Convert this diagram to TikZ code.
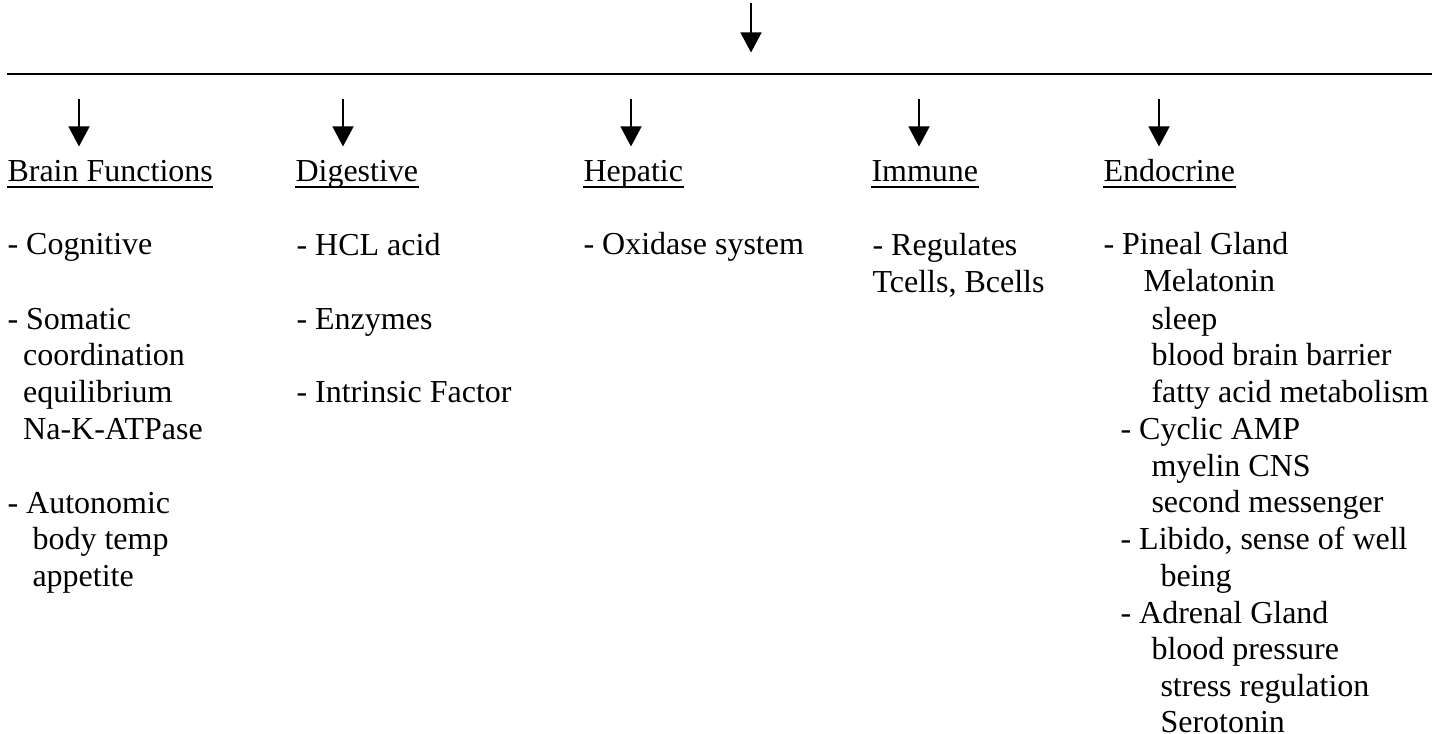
\documentclass[tikz,border=0pt]{standalone}
\usepackage{fontspec}
\setmainfont{Liberation Serif}
\usetikzlibrary{arrows.meta}
\tikzset{
  txt/.style={anchor=base west, inner sep=0pt, font=\fontsize{12}{14}\selectfont},
  down/.style={-{Triangle[length=7.5pt,width=7.8pt]}, line width=0.75pt},
  rulestyle/.style={line width=0.75pt},
}
\begin{document}
\begin{tikzpicture}[x=0.375pt, y=-0.375pt]
    \useasboundingbox (0,0) rectangle (1445,734);
    % top arrow and long rule
    \coordinate (top-a) at (751,3);
    \coordinate (top-b) at (751,52.5);
    \draw[down] (top-a) -- (top-b);
    \coordinate (rule-l) at (7,74);
    \coordinate (rule-r) at (1432,74);
    \draw[rulestyle] (rule-l) -- (rule-r);
    % column arrows and underlined headings
    \foreach \n/\ax/\hx/\htext in {brain/79/7/Brain Functions, dig/343/295/Digestive, hep/631/583/Hepatic, imm/919/871/Immune, endo/1159/1103/Endocrine} {
        \coordinate (\n-a) at (\ax,99);
        \coordinate (\n-b) at (\ax,146.5);
        \draw[down] (\n-a) -- (\n-b);
        \node[txt] (\n) at (\hx,182) {\htext};
        \draw[rulestyle] ([yshift=-1.9pt]\n.base west) -- ([yshift=-1.9pt]\n.base east);
    }
    % brain functions
    \foreach \i/\x/\y/\t in {1/7/255/- Cognitive, 2/7/329/- Somatic, 3/22.7/365.5/coordination, 4/22.7/402/equilibrium, 5/22.7/439/Na-K-ATPase, 6/7/513/- Autonomic, 7/32/549.5/body temp, 8/32/586/appetite}
        \node[txt] (brain\i) at (\x,\y) {\t};
    % digestive
    \foreach \i/\y/\t in {1/255.5/- HCL acid, 2/329/- Enzymes, 3/402.5/- Intrinsic Factor}
        \node[txt] (dig\i) at (296,\y) {\t};
    % hepatic
    \node[txt] (hep1) at (583,255) {- Oxidase system};
    % immune
    \node[txt] (imm1) at (872,256) {- Regulates};
    \node[txt] (imm2) at (872,292.5) {Tcells, Bcells};
    % endocrine
    \foreach \i/\x/\y/\t in {1/1103/255/- Pineal Gland, 2/1143/292/Melatonin, 3/1151/329/sleep, 4/1151/365.5/blood brain barrier, 5/1151/402/fatty acid metabolism, 6/1120/439/- Cyclic AMP, 7/1151/476/myelin CNS, 8/1151/512.5/second messenger, 9/1120/549/{- Libido, sense of well}, 10/1160/586/being, 11/1120/623/- Adrenal Gland, 12/1151/659.5/blood pressure, 13/1160/696/stress regulation, 14/1160/732.5/Serotonin}
        \node[txt] (endo\i) at (\x,\y) {\t};
\end{tikzpicture}
\end{document}
